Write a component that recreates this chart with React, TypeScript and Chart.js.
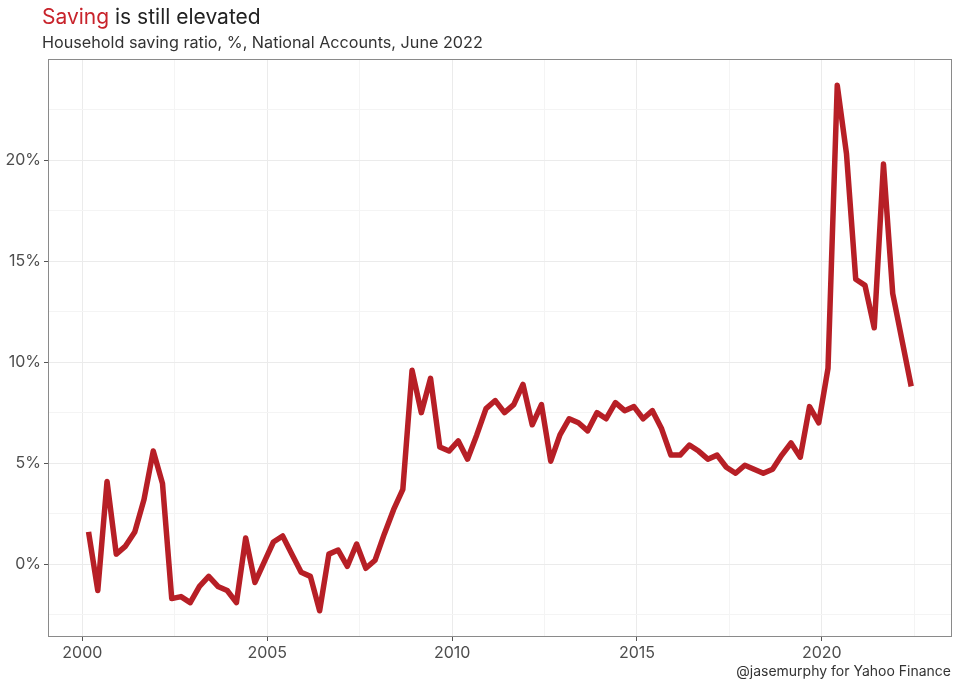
import { useEffect, useRef } from "react";
import { Chart, registerables } from "chart.js";

Chart.register(...registerables);

// Household saving ratio, %, quarterly from Mar-2000 to Jun-2022
const startYear = 2000;
const savingRatio = [
  1.6, -1.3, 4.1, 0.5,
  0.9, 1.6, 3.2, 5.6,
  4.0, -1.7, -1.6, -1.9,
  -1.1, -0.6, -1.1, -1.3,
  -1.9, 1.3, -0.9, 0.1,
  1.1, 1.4, 0.5, -0.4,
  -0.6, -2.3, 0.5, 0.7,
  -0.1, 1.0, -0.2, 0.2,
  1.5, 2.7, 3.7, 9.6,
  7.5, 9.2, 5.8, 5.6,
  6.1, 5.2, 6.4, 7.7,
  8.1, 7.5, 7.9, 8.9,
  6.9, 7.9, 5.1, 6.4,
  7.2, 7.0, 6.6, 7.5,
  7.2, 8.0, 7.6, 7.8,
  7.2, 7.6, 6.7, 5.4,
  5.4, 5.9, 5.6, 5.2,
  5.4, 4.8, 4.5, 4.9,
  4.7, 4.5, 4.7, 5.4,
  6.0, 5.3, 7.8, 7.0,
  9.7, 23.7, 20.3, 14.1,
  13.8, 11.7, 19.8, 13.4,
  11.1, 8.8,
];

const xMajorTicks = [2000, 2005, 2010, 2015, 2020];
const xMinorTicks = [2002.5, 2007.5, 2012.5, 2017.5, 2022.5];
const yMajorTicks = [0, 5, 10, 15, 20];
const yMinorTicks = [-2.5, 2.5, 7.5, 12.5, 17.5, 22.5];

const titleHighlight = "Saving";
const titleRest = " is still elevated";
const subtitleText = "Household saving ratio, %, National Accounts, June 2022";
const captionText = "@jasemurphy for Yahoo Finance";

const FONT = "Inter";
const LINE_COLOR = "#b71f26";
const TITLE_RED = "#c8232b";

export default function App() {
  const ref = useRef<HTMLCanvasElement>(null);

  useEffect(() => {
    document.body.style.margin = "0";
    if (!ref.current) return;

    const points = savingRatio.map((v, i) => ({
      x: startYear + Math.floor(i / 4) + ((i % 4) * 3 + 2) / 12,
      y: v,
    }));

    const isMajor = (v: number, majors: number[]) =>
      majors.some((m) => Math.abs(m - v) < 1e-6);

    const decor = {
      id: "decor",
      beforeDraw(chart: any) {
        const ctx = chart.ctx;
        ctx.save();
        ctx.fillStyle = "#ffffff";
        ctx.fillRect(0, 0, chart.width, chart.height);
        ctx.restore();
      },
      afterDraw(chart: any) {
        const ctx = chart.ctx;
        const a = chart.chartArea;
        ctx.save();
        ctx.strokeStyle = "#8a8a8a";
        ctx.lineWidth = 1;
        ctx.strokeRect(
          Math.round(a.left) + 0.5,
          Math.round(a.top) + 0.5,
          Math.round(a.right - a.left) - 1,
          Math.round(a.bottom - a.top) - 1
        );

        ctx.textBaseline = "alphabetic";
        ctx.textAlign = "left";
        ctx.font = `400 21px ${FONT}`;
        ctx.fillStyle = TITLE_RED;
        ctx.fillText(titleHighlight, 42, 24);
        const w = ctx.measureText(titleHighlight).width;
        ctx.fillStyle = "#222222";
        ctx.fillText(titleRest, 42 + w, 24);

        ctx.font = `400 16.2px ${FONT}`;
        ctx.fillStyle = "#333333";
        ctx.fillText(subtitleText, 42, 48);

        ctx.font = `400 14px ${FONT}`;
        ctx.textAlign = "right";
        ctx.fillStyle = "#333333";
        ctx.fillText(captionText, 951, 676);
        ctx.restore();
      },
    };

    const chart = new Chart(ref.current, {
      type: "line",
      data: {
        datasets: [
          {
            data: points,
            borderColor: LINE_COLOR,
            borderWidth: 5.5,
            pointRadius: 0,
            tension: 0,
            borderJoinStyle: "round",
            borderCapStyle: "butt",
            fill: false,
          },
        ],
      },
      options: {
        responsive: false,
        animation: false,
        events: [],
        layout: { padding: { top: 59, right: 8, left: 0, bottom: 0 } },
        plugins: {
          legend: { display: false },
          tooltip: { enabled: false },
          title: { display: false },
        },
        scales: {
          x: {
            type: "linear",
            min: 1999.07,
            max: 2023.52,
            afterBuildTicks: (s: any) => {
              s.ticks = [...xMajorTicks, ...xMinorTicks]
                .sort((p, q) => p - q)
                .map((v) => ({ value: v }));
            },
            afterFit: (s: any) => {
              s.height = 49;
            },
            border: { display: false },
            grid: {
              color: (c: any) =>
                isMajor(c.tick?.value, xMajorTicks) ? "#ebebeb" : "#f4f4f4",
              lineWidth: 1,
              tickLength: 4,
              tickColor: (c: any) =>
                isMajor(c.tick?.value, xMajorTicks) ? "#555555" : "rgba(0,0,0,0)",
            },
            ticks: {
              autoSkip: false,
              maxRotation: 0,
              padding: 3,
              color: "#4d4d4d",
              font: { family: FONT, size: 16 },
              callback: (v: any) => (isMajor(Number(v), xMajorTicks) ? String(v) : ""),
            },
          },
          y: {
            type: "linear",
            min: -3.6,
            max: 25.0,
            afterBuildTicks: (s: any) => {
              s.ticks = [...yMajorTicks, ...yMinorTicks]
                .sort((p, q) => p - q)
                .map((v) => ({ value: v }));
            },
            afterFit: (s: any) => {
              s.width = 48;
            },
            border: { display: false },
            grid: {
              color: (c: any) =>
                isMajor(c.tick?.value, yMajorTicks) ? "#ebebeb" : "#f4f4f4",
              lineWidth: 1,
              tickLength: 4,
              tickColor: (c: any) =>
                isMajor(c.tick?.value, yMajorTicks) ? "#555555" : "rgba(0,0,0,0)",
            },
            ticks: {
              autoSkip: false,
              padding: 3,
              color: "#4d4d4d",
              font: { family: FONT, size: 16 },
              callback: (v: any) => (isMajor(Number(v), yMajorTicks) ? `${v}%` : ""),
            },
          },
        },
      },
      plugins: [decor],
    } as any);

    return () => chart.destroy();
  }, []);

  return (
    <div style={{ width: 960, height: 686 }}>
      <canvas ref={ref} width={960} height={686} style={{ display: "block" }} />
    </div>
  );
}
